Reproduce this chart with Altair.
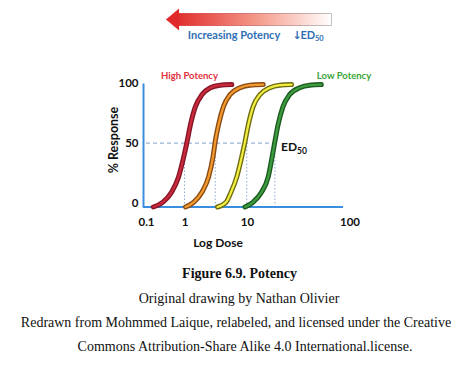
import altair as alt
import pandas as pd

# ---- data ----
x_ticks = [0.1, 1, 10, 100]
y_ticks = [0, 50, 100]

response = [-3, 1.1, 9.5, 22, 38.7, 51.3, 65.3, 80.6, 90.4, 96, 98.2, 98.7]

dose_high = [0.155, 0.276, 0.466, 0.70, 0.957, 1.10, 1.245, 1.50, 1.91, 2.59, 3.72, 5.71]
dose_orange = [1.04, 1.41, 1.91, 2.43, 2.86, 3.10, 3.50, 4.21, 5.37, 7.74, 10.7, 14.4]
dose_yellow = [3.38, 4.64, 5.57, 6.87, 8.24, 9.29, 10.3, 11.5, 13.4, 16.7, 20.9, 27.2]
dose_low = [9.29, 11.5, 13.9, 16.1, 17.6, 18.7, 20.1, 22.5, 26.1, 32.7, 40.9, 53.1]

curve_names = ["High", "Orange", "Yellow", "Low"]
curve_doses = [dose_high, dose_orange, dose_yellow, dose_low]
outline_colors = ["#861526", "#8a4a15", "#6e6c12", "#1d5a22"]
inner_colors = ["#c92a3c", "#f29a2e", "#f2ee40", "#3c9c3e"]

ed50 = [1.0, 3.1, 9.9, 18.7]

W, H = 200, 124

rows = []
for name, doses in zip(curve_names, curve_doses):
    for i, (d, r) in enumerate(zip(doses, response)):
        rows.append({"curve": name, "curve_in": name + " in", "dose": d, "resp": r, "order": i})
df = pd.DataFrame(rows)

xscale = alt.Scale(type="log", domain=x_ticks, range=[3, 41.5, 104, 206.5])
yscale = alt.Scale(domain=[-3, 100], nice=False, zero=False)

x_axis = alt.Axis(values=x_ticks, format="~g", domain=False, ticks=False, grid=False,
                  labelFont="Lato", labelFontWeight="bold", labelFontSize=11.5,
                  labelColor="#111", labelPadding=9, title=None, labelFlush=False)
y_axis = alt.Axis(values=y_ticks, domain=True, domainColor="#3a8ee0", domainWidth=2,
                  ticks=False, grid=False, labelFont="Lato", labelFontWeight="bold",
                  labelFontSize=11.5, labelColor="#111", labelPadding=5, title=None)

base = alt.Chart(df)

outline = base.mark_line(strokeWidth=5, strokeCap="round", strokeJoin="round", interpolate="monotone").encode(
    x=alt.X("dose:Q", scale=xscale, axis=x_axis),
    y=alt.Y("resp:Q", scale=yscale, axis=y_axis),
    color=alt.Color("curve:N", scale=alt.Scale(domain=curve_names, range=outline_colors), legend=None),
    order="order:O",
)
inner = base.mark_line(strokeWidth=2.2, strokeCap="round", strokeJoin="round", interpolate="monotone").encode(
    x=alt.X("dose:Q", scale=xscale),
    y=alt.Y("resp:Q", scale=yscale),
    color=alt.Color("curve_in:N",
                    scale=alt.Scale(domain=[n + " in" for n in curve_names], range=inner_colors),
                    legend=None),
    order="order:O",
)

ed_df = pd.DataFrame({"dose": ed50, "lo": [-3] * 4, "hi": [50] * 4})
vlines = alt.Chart(ed_df).mark_rule(color="#8eaad0", strokeWidth=1, strokeDash=[1.5, 2]).encode(
    x=alt.X("dose:Q", scale=xscale), y=alt.Y("lo:Q", scale=yscale), y2="hi:Q")

h_df = pd.DataFrame({"x1": [0.1], "x2": [max(ed50)], "y": [50]})
hline = alt.Chart(h_df).mark_rule(color="#9ab4d8", strokeWidth=1.3, strokeDash=[4, 3]).encode(
    x=alt.X("x1:Q", scale=xscale), x2="x2:Q", y=alt.Y("y:Q", scale=yscale))

xaxis_line = alt.Chart(h_df).mark_rule(color="#3a8ee0", strokeWidth=2).encode(
    x=alt.value(0), x2=alt.value(W), y=alt.value(H))


def txt(s, x, y, size, color="#111", weight="normal", font="Lato", align="center", angle=0, baseline="middle"):
    kw = dict(text=s, fontSize=size, color=color, fontWeight=weight, font=font,
              align=align, baseline=baseline)
    if angle:
        kw["angle"] = angle
    return alt.Chart(h_df).mark_text(**kw).encode(x=alt.value(x), y=alt.value(y))


texts = [
    txt("High Potency", 46.5, -7.5, 9.5, "#e0303c", "bold"),
    txt("Low Potency", 201, -7, 9.5, "#3aa53a", "bold"),
    txt("ED", 138, 64, 12, "#111", "bold", align="left"),
    txt("50", 154, 67.5, 8.5, "#111", "bold", align="left"),
    txt("Log Dose", 75, 159.5, 12, "#111", "bold"),
    txt("% Response", -29, 57, 12.5, "#111", "bold", angle=270),
    txt("Increasing Potency", 91, -47.5, 11, "#2f6fb5", "bold"),
    txt("\u2193", 154, -47.5, 11, "#2f6fb5", "bold", font="DejaVu Sans"),
    txt("ED", 157.5, -47.5, 11, "#2f6fb5", "bold", align="left"),
    txt("50", 172, -44.5, 7.5, "#2f6fb5", "bold", align="left"),
    txt("Figure 6.9. Potency", 96.5, 191, 14, "#111", "bold", font="Liberation Serif"),
    txt("Original drawing by Nathan Olivier", 96, 216, 14, "#111", font="Liberation Serif"),
    txt("Redrawn from Mohmmed Laique, relabeled, and licensed under the Creative", 93, 240, 14, "#111", font="Liberation Serif"),
    txt("Commons Attribution-Share Alike 4.0 International.license.", 102, 264, 14, "#111", font="Liberation Serif"),
]

grad = alt.Gradient(gradient="linear", x1=0, x2=1, y1=0, y2=0,
                    stops=[alt.GradientStop(color="#e02a2a", offset=0),
                           alt.GradientStop(color="#f5a090", offset=0.55),
                           alt.GradientStop(color="#ffffff", offset=1)])
sgrad = alt.Gradient(gradient="linear", x1=0, x2=1, y1=0, y2=0,
                     stops=[alt.GradientStop(color="#e02a2a", offset=0),
                            alt.GradientStop(color="#b0b0b0", offset=1)])
arrow_body = alt.Chart(h_df).mark_rect(color=grad, stroke=sgrad, strokeWidth=0.8).encode(
    x=alt.value(32), x2=alt.value(188.5), y=alt.value(-69.5), y2=alt.value(-57.5))
arrow_head = alt.Chart(h_df).mark_point(
    shape="M -0.6 0 L 0.6 -1 L 0.6 1 Z", filled=True, color="#e02a2a", opacity=1, size=480
).encode(x=alt.value(29.5), y=alt.value(-63.5))

chart = alt.layer(
    hline, vlines, xaxis_line, outline, inner, arrow_body, arrow_head, *texts
).resolve_scale(color="independent").properties(
    width=W, height=H,
    autosize=alt.AutoSizeParams(type="none"),
    padding={"left": 135, "top": 75, "right": 115, "bottom": 150},
).configure_view(stroke=None)

chart.save("out.html", embed_options={"renderer": "svg", "actions": False})
